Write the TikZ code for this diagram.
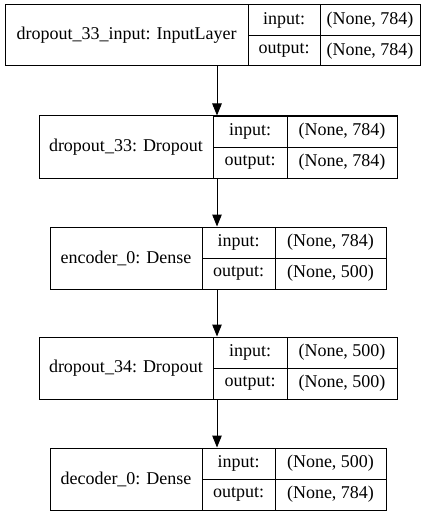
\documentclass[tikz,border=0pt]{standalone}
\usepackage{fontspec}
\setmainfont{Liberation Serif}
\usetikzlibrary{arrows.meta}
\tikzset{
  cell/.style={draw=black, line width=1pt, inner sep=0pt, outer sep=0pt, anchor=north west,
    font=\fontsize{18}{20}\selectfont},
  arr/.style={draw=black, line width=1pt, -{Triangle[length=12pt,width=9.5pt]}, shorten >=0.5pt}
}
% \mylayer{id}{x0}{d1}{d2}{x1}{y0}{y1}{title}{in}; output value in \myout
\newcommand{\mylayer}[9]{%
  \pgfmathsetmacro{\wt}{#3-#2}%
  \pgfmathsetmacro{\wa}{#4-#3}%
  \pgfmathsetmacro{\wb}{#5-#4}%
  \pgfmathsetmacro{\hh}{#7-#6}%
  \pgfmathsetmacro{\hm}{(#7-#6)/2}%
  \pgfmathsetmacro{\ym}{(#6+#7)/2}%
  \node[cell, minimum width=\wt pt, minimum height=\hh pt] (#1) at (#2,#6) {#8};
  \node[cell, minimum width=\wa pt, minimum height=\hm pt] (#1-il) at (#3,#6) {input:};
  \node[cell, minimum width=\wb pt, minimum height=\hm pt] (#1-iv) at (#4,#6) {#9};
  \node[cell, minimum width=\wa pt, minimum height=\hm pt] (#1-ol) at (#3,\ym) {output:};
  \node[cell, minimum width=\wb pt, minimum height=\hm pt] (#1-ov) at (#4,\ym) {\myout};
}
\begin{document}
\begin{tikzpicture}[x=1pt,y=-1pt]
\useasboundingbox (0,0) rectangle (436,516);
\fill[white] (0,0) rectangle (436,516);
\def\myout{(None, 784)}
\mylayer{L1}{5}{248}{320}{420}{5}{66}{dropout\_33\_input: InputLayer}{(None, 784)}
\def\myout{(None, 784)}
\mylayer{L2}{39}{213}{287}{397}{116}{178}{dropout\_33: Dropout}{(None, 784)}
\def\myout{(None, 500)}
\mylayer{L3}{50}{202}{275}{386}{227}{289}{encoder\_0: Dense}{(None, 784)}
\def\myout{(None, 500)}
\mylayer{L4}{39}{213}{287}{397}{337}{399}{dropout\_34: Dropout}{(None, 500)}
\def\myout{(None, 784)}
\mylayer{L5}{50}{202}{275}{386}{448}{510}{decoder\_0: Dense}{(None, 500)}
\coordinate (ax) at (217,0);
\draw[arr] (L1.south -| ax) -- (L2.north -| ax);
\draw[arr] (L2.south -| ax) -- (L3.north -| ax);
\draw[arr] (L3.south -| ax) -- (L4.north -| ax);
\draw[arr] (L4.south -| ax) -- (L5.north -| ax);
\end{tikzpicture}
\end{document}
